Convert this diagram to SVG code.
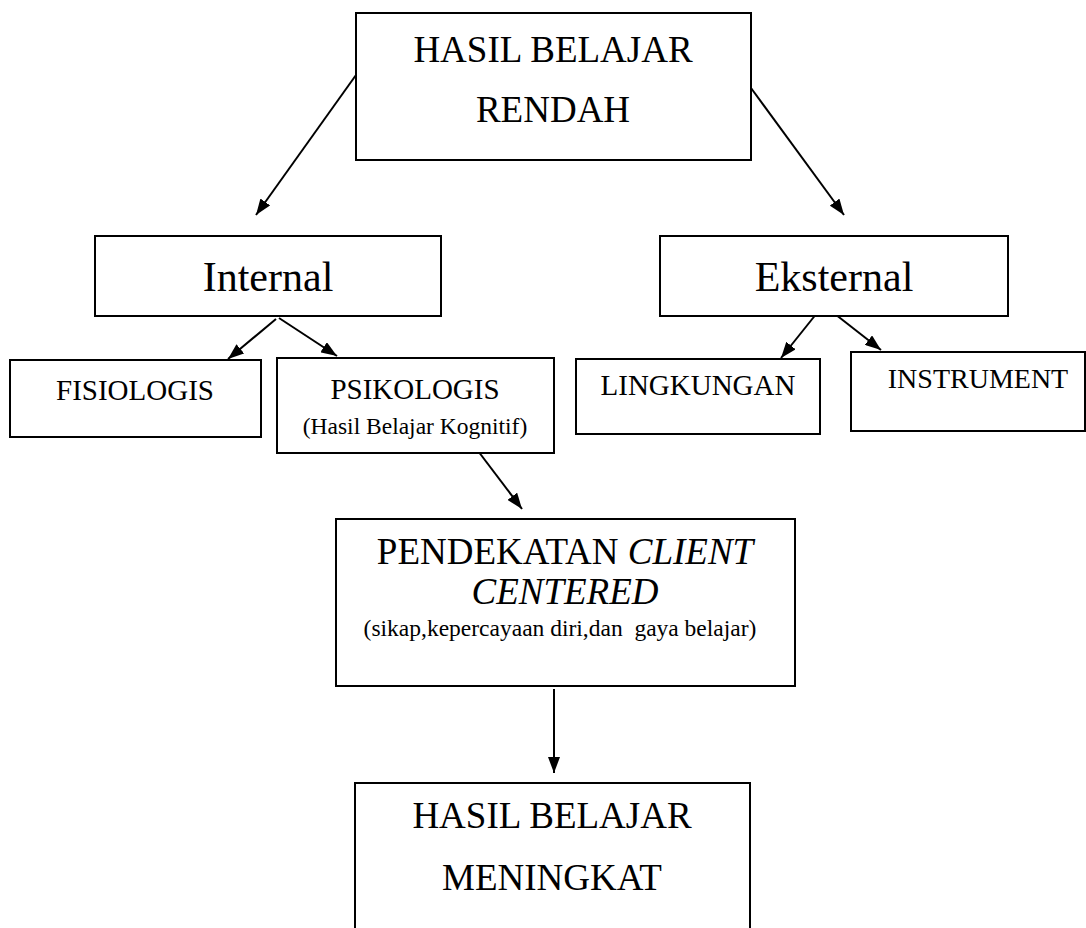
<svg xmlns="http://www.w3.org/2000/svg" width="1086" height="928" viewBox="0 0 1086 928">
<style>
.box{fill:#fff;stroke:#000;stroke-width:2}
.t{font-family:"Liberation Serif",serif;fill:#000;text-anchor:middle}
.c{stroke:#000;stroke-width:2;fill:none}
.pre{white-space:pre}
</style>
<defs>
<marker id="ah" viewBox="0 0 16 12" refX="16" refY="6" markerWidth="16" markerHeight="12" markerUnits="userSpaceOnUse" orient="auto">
<path d="M0,0 L16,6 L0,12 z" fill="#000"/>
</marker>
</defs>
<rect width="1086" height="928" fill="#fff"/>
<g id="connectors">
<line class="c" x1="356" y1="75" x2="256" y2="215" marker-end="url(#ah)"/>
<line class="c" x1="751" y1="88" x2="844" y2="215" marker-end="url(#ah)"/>
<line class="c" x1="276" y1="319" x2="228" y2="359" marker-end="url(#ah)"/>
<line class="c" x1="279" y1="318" x2="337" y2="356" marker-end="url(#ah)"/>
<line class="c" x1="821" y1="308" x2="781" y2="358" marker-end="url(#ah)"/>
<line class="c" x1="826" y1="307" x2="881" y2="350" marker-end="url(#ah)"/>
<line class="c" x1="472" y1="443" x2="522" y2="509" marker-end="url(#ah)"/>
<line class="c" x1="554" y1="689" x2="554" y2="773" marker-end="url(#ah)"/>
</g>
<g id="n-top">
<rect class="box" x="356" y="13" width="395" height="147"/>
<text class="t" x="553" y="62" font-size="37">HASIL BELAJAR</text>
<text class="t" x="553" y="122" font-size="37">RENDAH</text>
</g>
<g id="n-internal">
<rect class="box" x="95" y="236" width="346" height="80"/>
<text class="t" x="268" y="291" font-size="42">Internal</text>
</g>
<g id="n-eksternal">
<rect class="box" x="660" y="236" width="348" height="80"/>
<text class="t" x="834" y="291" font-size="42">Eksternal</text>
</g>
<g id="n-fisiologis">
<rect class="box" x="10" y="360" width="251" height="77"/>
<text class="t" x="135" y="400" font-size="29">FISIOLOGIS</text>
</g>
<g id="n-psikologis">
<rect class="box" x="277" y="358" width="277" height="95"/>
<text class="t" x="415" y="399" font-size="29">PSIKOLOGIS</text>
<text class="t" x="415" y="434" font-size="23.5">(Hasil Belajar Kognitif)</text>
</g>
<g id="n-lingkungan">
<rect class="box" x="576" y="359" width="244" height="75"/>
<text class="t" x="698" y="395" font-size="29">LINGKUNGAN</text>
</g>
<g id="n-instrument">
<rect class="box" x="851" y="352" width="234" height="79"/>
<text class="t" x="978" y="388" font-size="28">INSTRUMENT</text>
</g>
<g id="n-pendekatan">
<rect class="box" x="336" y="519" width="459" height="167"/>
<text class="t" x="565" y="564" font-size="37">PENDEKATAN <tspan font-style="italic">CLIENT</tspan></text>
<text class="t" x="565" y="604" font-size="37" font-style="italic">CENTERED</text>
<text class="t pre" x="560" y="636" font-size="23.5">(sikap,kepercayaan diri,dan  gaya belajar)</text>
</g>
<g id="n-bottom">
<rect class="box" x="355" y="783" width="395" height="160"/>
<text class="t" x="552" y="828" font-size="37">HASIL BELAJAR</text>
<text class="t" x="552" y="890" font-size="37">MENINGKAT</text>
</g>
</svg>
